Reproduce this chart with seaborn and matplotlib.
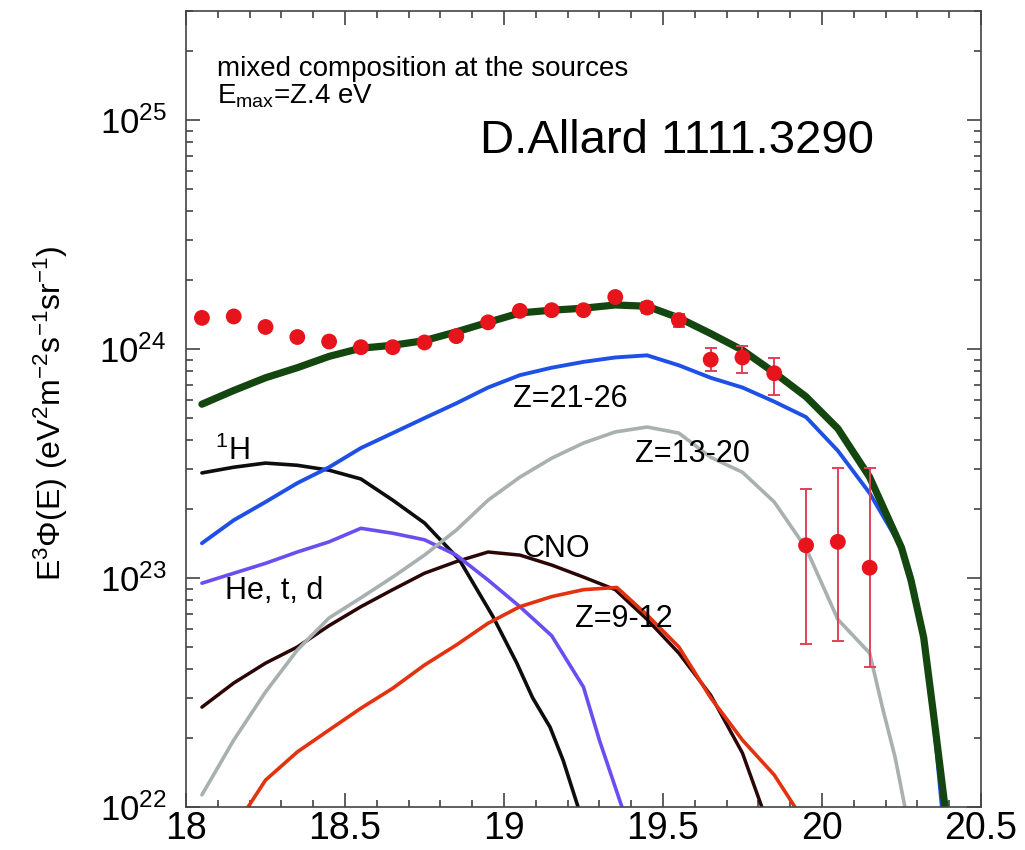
import numpy as np
import pandas as pd
import matplotlib
matplotlib.use("Agg")
import matplotlib.pyplot as plt
import seaborn as sns
from matplotlib.ticker import MultipleLocator, LogLocator, FuncFormatter, NullFormatter

# ── Style ────────────────────────────────────────────────────
sns.set_theme(style="ticks")
plt.rcParams["font.family"] = ["Liberation Sans", "DejaVu Sans"]
plt.rcParams["mathtext.fontset"] = "custom"
plt.rcParams["mathtext.rm"] = "Liberation Sans"
plt.rcParams["mathtext.it"] = "Liberation Sans:italic"
plt.rcParams["mathtext.bf"] = "Liberation Sans:bold"
plt.rcParams["text.color"] = "black"
plt.rcParams["axes.labelcolor"] = "black"

# ── Data ─────────────────────────────────────────────────────
total_x = [18.05, 18.15, 18.25, 18.35, 18.45, 18.55, 18.65, 18.75, 18.85, 18.95,
           19.05, 19.15, 19.25, 19.35, 19.45, 19.55, 19.65, 19.75, 19.85, 19.95,
           20.05, 20.15, 20.25, 20.28, 20.32, 20.35, 20.387]
total_y = [5.75e23, 6.6e23, 7.5e23, 8.3e23, 9.3e23, 1.01e24, 1.04e24, 1.09e24, 1.19e24, 1.31e24,
           1.44e24, 1.48e24, 1.51e24, 1.56e24, 1.54e24, 1.37e24, 1.17e24, 9.9e23, 7.9e23, 6.2e23,
           4.5e23, 2.76e23, 1.36e23, 9.8e22, 5.5e22, 2.6e22, 1.0e22]

fe_x = [18.05, 18.15, 18.25, 18.35, 18.45, 18.55, 18.65, 18.75, 18.85, 18.95,
        19.05, 19.15, 19.25, 19.35, 19.45, 19.55, 19.65, 19.75, 19.85, 19.95,
        20.05, 20.15, 20.25, 20.28, 20.32, 20.35, 20.377]
fe_y = [1.42e23, 1.79e23, 2.15e23, 2.6e23, 3.05e23, 3.7e23, 4.3e23, 5.0e23, 5.8e23, 6.8e23,
        7.7e23, 8.3e23, 8.8e23, 9.2e23, 9.4e23, 8.5e23, 7.5e23, 6.8e23, 5.9e23, 5.05e23,
        3.6e23, 2.35e23, 1.36e23, 1.03e23, 5.3e22, 2.5e22, 1.0e22]

si_x = [18.05, 18.15, 18.25, 18.35, 18.45, 18.55, 18.65, 18.75, 18.85, 18.95,
        19.05, 19.15, 19.25, 19.35, 19.45, 19.55, 19.65, 19.75, 19.85, 19.95,
        20.05, 20.15, 20.19, 20.23, 20.261]
si_y = [1.13e22, 1.96e22, 3.18e22, 4.85e22, 6.7e22, 8.2e22, 1.01e23, 1.26e23, 1.62e23, 2.19e23,
        2.76e23, 3.34e23, 3.89e23, 4.35e23, 4.57e23, 4.3e23, 3.37e23, 2.9e23, 2.15e23, 1.35e23,
        6.6e22, 4.7e22, 2.73e22, 1.65e22, 1.0e22]

ne_x = [18.195, 18.25, 18.35, 18.45, 18.55, 18.65, 18.75, 18.85, 18.95, 19.05,
        19.15, 19.25, 19.355, 19.45, 19.55, 19.65, 19.75, 19.85, 19.915]
ne_y = [1.0e22, 1.31e22, 1.74e22, 2.17e22, 2.7e22, 3.3e22, 4.17e22, 5.1e22, 6.35e22, 7.5e22,
        8.3e22, 8.9e22, 9.1e22, 6.9e22, 5.0e22, 3.0e22, 1.96e22, 1.38e22, 1.0e22]

cno_x = [18.05, 18.15, 18.25, 18.35, 18.45, 18.55, 18.65, 18.75, 18.85, 18.95,
         19.05, 19.15, 19.25, 19.35, 19.45, 19.55, 19.65, 19.75, 19.811]
cno_y = [2.73e22, 3.48e22, 4.25e22, 5.0e22, 6.2e22, 7.5e22, 8.9e22, 1.05e23, 1.18e23, 1.30e23,
         1.26e23, 1.14e23, 1.01e23, 8.9e22, 6.6e22, 4.7e22, 3.08e22, 1.72e22, 1.0e22]

he_x = [18.05, 18.15, 18.25, 18.35, 18.45, 18.55, 18.65, 18.75, 18.85, 18.95,
        19.05, 19.15, 19.25, 19.30, 19.371]
he_y = [9.5e22, 1.05e23, 1.16e23, 1.30e23, 1.44e23, 1.65e23, 1.57e23, 1.47e23, 1.26e23, 9.8e22,
        7.5e22, 5.6e22, 3.34e22, 1.96e22, 1.0e22]

p_x = [18.05, 18.15, 18.25, 18.35, 18.45, 18.55, 18.65, 18.75, 18.86, 18.965,
       19.04, 19.09, 19.145, 19.186, 19.233]
p_y = [2.88e23, 3.05e23, 3.18e23, 3.11e23, 2.96e23, 2.71e23, 2.19e23, 1.74e23, 1.2e23, 6.8e22,
       4.26e22, 3.0e22, 2.23e22, 1.6e22, 1.0e22]

obs_x = [18.05, 18.15, 18.25, 18.35, 18.45, 18.55, 18.65, 18.75, 18.85, 18.95, 19.05,
         19.15, 19.25, 19.35, 19.45, 19.55, 19.65, 19.75, 19.85, 19.95, 20.05, 20.15]
obs_y = [1.37e24, 1.39e24, 1.25e24, 1.13e24, 1.08e24, 1.02e24, 1.02e24, 1.07e24, 1.14e24, 1.31e24, 1.47e24,
         1.48e24, 1.48e24, 1.69e24, 1.52e24, 1.34e24, 9.0e23, 9.2e23, 7.85e23, 1.39e23, 1.44e23, 1.11e23]
obs_lo = [1.37e24, 1.39e24, 1.25e24, 1.13e24, 1.08e24, 1.02e24, 1.02e24, 1.07e24, 1.14e24, 1.31e24, 1.47e24,
          1.48e24, 1.48e24, 1.69e24, 1.44e24, 1.25e24, 8.0e23, 7.85e23, 6.3e23, 5.15e22, 5.3e22, 4.08e22]
obs_hi = [1.37e24, 1.39e24, 1.25e24, 1.13e24, 1.08e24, 1.02e24, 1.02e24, 1.07e24, 1.14e24, 1.31e24, 1.47e24,
          1.48e24, 1.48e24, 1.69e24, 1.60e24, 1.42e24, 1.01e24, 1.03e24, 9.14e23, 2.45e23, 3.02e23, 3.02e23]

x_ticks = [18, 18.5, 19, 19.5, 20, 20.5]

# ── Figure ───────────────────────────────────────────────────
fig = plt.figure(figsize=(10.25, 8.5), dpi=100)
ax = fig.add_axes([0.1815, 0.0506, 0.7755, 0.9364])
ax.set_yscale("log")

curves = [
    (cno_x, cno_y, "#2b0606", 2.5),
    (p_x, p_y, "#0d0d0d", 2.6),
    (he_x, he_y, "#6b4ef0", 2.6),
    (si_x, si_y, "#a9b0b0", 2.6),
    (ne_x, ne_y, "#e2320f", 2.6),
    (fe_x, fe_y, "#1f50e6", 2.8),
    (total_x, total_y, "#14470f", 5.2),
]
for cx, cy, col, lw in curves:
    df = pd.DataFrame({"x": cx, "y": cy})
    sns.lineplot(data=df, x="x", y="y", ax=ax, color=col, linewidth=lw,
                 estimator=None, sort=False, legend=False)

obs = pd.DataFrame({"x": obs_x, "y": obs_y, "lo": obs_lo, "hi": obs_hi})
ax.errorbar(obs["x"], obs["y"],
            yerr=[obs["y"] - obs["lo"], obs["hi"] - obs["y"]],
            fmt="none", ecolor="#e0405a", elinewidth=1.4, capsize=4, capthick=1.4, zorder=4)
sns.scatterplot(data=obs, x="x", y="y", ax=ax, color="#e8141c", s=130,
                edgecolor="none", zorder=5, legend=False)

# ── Axes ─────────────────────────────────────────────────────
ax.set_xlim(18, 20.5)
ax.set_ylim(1e22, 3e25)
ax.xaxis.set_minor_locator(MultipleLocator(0.1))
ax.set_xticks(x_ticks)
ax.set_xticklabels([f"{t:g}" for t in x_ticks])
ax.yaxis.set_major_locator(LogLocator(base=10))
ax.yaxis.set_minor_locator(LogLocator(base=10, subs=np.arange(2, 10)))
ax.yaxis.set_major_formatter(FuncFormatter(lambda v, _: rf"$10^{{{int(round(np.log10(v)))}}}$"))
ax.yaxis.set_minor_formatter(NullFormatter())
ax.tick_params(which="both", direction="in", top=True, right=True, colors="#333333", width=1.1)
ax.tick_params(which="major", length=10)
ax.tick_params(which="minor", length=5)
ax.tick_params(axis="x", which="major", labelsize=27, pad=3, labelcolor="black")
ax.tick_params(axis="y", which="major", labelsize=25, pad=14, labelcolor="black")
for sp in ax.spines.values():
    sp.set_color("#444444")
    sp.set_linewidth(1.2)

ax.set_xlabel("")
ax.set_ylabel(r"E$^3\Phi$(E) (eV$^2$m$^{-2}$s$^{-1}$sr$^{-1}$)", fontsize=23)
ax.yaxis.set_label_coords(-0.146, 0.495)

# ── Annotations ──────────────────────────────────────────────
ax.text(0.039, 0.919, "mixed composition at the sources", transform=ax.transAxes,
        fontsize=20, va="baseline", ha="left")
ax.text(0.039, 0.884, r"E$_{\rm max}$=Z.4 eV", transform=ax.transAxes,
        fontsize=20, va="baseline", ha="left")
ax.text(0.370, 0.822, "D.Allard 1111.3290", transform=ax.transAxes,
        fontsize=34, va="baseline", ha="left")

lab_kw = dict(fontsize=22, va="baseline", ha="left")
ax.text(18.091, 3.27e23, r"$^{1}$H", **lab_kw)
ax.text(18.123, 8.1e22, "He, t, d", **lab_kw)
ax.text(19.057, 1.24e23, "CNO", **lab_kw)
ax.text(19.223, 6.1e22, "Z=9-12", **lab_kw)
ax.text(19.028, 5.58e23, "Z=21-26", **lab_kw)
ax.text(19.412, 3.21e23, "Z=13-20", **lab_kw)

fig.savefig("out.png", dpi=100, facecolor="white")
